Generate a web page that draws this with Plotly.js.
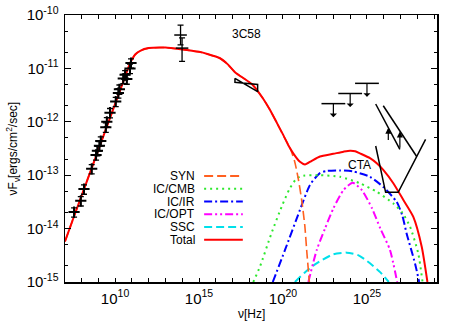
<!DOCTYPE html>
<html>
<head>
<meta charset="utf-8">
<script src="https://cdn.plot.ly/plotly-3.0.1.min.js"></script>
<style>
  html, body { margin: 0; padding: 0; background: #fff; }
  #sed { width: 458px; height: 321px; }
</style>
</head>
<body>
<div id="sed"></div>
<script>
// all values below are log10 readings (nu in Hz, nuFnu in erg/cm2/s)

// model curves
const totalNu = [7.02, 7.5, 8.0, 8.5, 9.0, 9.5, 10.0, 10.5, 10.9, 11.2, 11.5, 12.0, 13.0, 13.9, 15.0, 15.5, 16.25, 16.7, 17.14, 18.2, 18.8, 19.23, 19.6, 20.02, 20.3, 20.61, 21.01, 21.31, 21.71, 22.2, 22.99, 23.6, 23.99, 24.3, 24.58, 25.18, 25.6, 25.97, 26.57, 27.16, 27.76, 28.26, 28.6];
const totalF = [-14.24, -13.82, -13.39, -12.96, -12.53, -12.10, -11.67, -11.24, -10.9, -10.74, -10.67, -10.62, -10.61, -10.64, -10.69, -10.73, -10.81, -10.92, -11.07, -11.31, -11.56, -11.78, -12.0, -12.25, -12.43, -12.59, -12.75, -12.80, -12.73, -12.65, -12.60, -12.56, -12.54, -12.55, -12.59, -12.68, -12.78, -12.90, -13.15, -13.46, -13.78, -14.34, -15.0];

const synNu = [7.02, 8.0, 9.0, 10.0, 10.9, 11.2, 11.5, 12.0, 13.0, 13.9, 15.0, 15.5, 16.25, 16.7, 17.14, 18.2, 18.8, 19.23, 19.6, 20.02, 20.42, 20.7, 20.9, 21.11, 21.3, 21.41, 21.57];
const synF = [-14.24, -13.39, -12.53, -11.67, -10.9, -10.74, -10.67, -10.62, -10.61, -10.64, -10.69, -10.73, -10.81, -10.92, -11.07, -11.31, -11.56, -11.78, -12.0, -12.26, -12.49, -12.75, -13.05, -13.46, -13.95, -14.40, -15.0];

const cmbNu = [18.23, 18.63, 19.3, 19.92, 20.4, 20.82, 21.21, 22.2, 23.39, 24.58, 25.58, 26.57, 27.1, 27.56, 28.05, 28.31];
const cmbF = [-15.0, -14.71, -14.1, -13.59, -13.25, -13.06, -13.01, -13.0, -13.03, -13.15, -13.31, -13.53, -13.7, -13.96, -14.46, -15.0];

const irNu = [19.39, 20.12, 21.01, 21.61, 22.2, 22.6, 23.4, 24.18, 25.18, 25.97, 26.77, 27.1, 27.36, 27.86, 28.11];
const irF = [-15.0, -14.40, -13.65, -13.18, -12.96, -12.92, -12.91, -12.93, -13.03, -13.22, -13.50, -13.75, -14.09, -14.65, -15.0];

const optNu = [21.51, 22.01, 22.5, 23.0, 23.6, 24.15, 24.7, 25.3, 25.8, 26.37, 26.8];
const optF = [-15.0, -14.40, -14.0, -13.62, -13.28, -13.14, -13.28, -13.62, -14.0, -14.40, -15.0];

const sscNu = [20.71, 21.3, 22.0, 23.0, 23.79, 24.5, 25.18, 25.8, 26.3];
const sscF = [-15.0, -14.82, -14.65, -14.48, -14.45, -14.5, -14.65, -14.82, -15.0];

// radio points
const radioNu = [7.56, 7.96, 8.15, 8.61, 8.87, 8.95, 9.07, 9.15, 9.45, 9.51, 9.70, 10.04, 10.20, 10.26, 10.49, 10.60, 10.70, 10.89, 10.95];
const radioF = [-13.69, -13.48, -13.26, -12.88, -12.62, -12.54, -12.45, -12.36, -12.10, -12.0, -11.83, -11.62, -11.46, -11.39, -11.19, -11.12, -11.20, -11.0, -10.90];

// IR / optical points
const irPtNu = [13.9, 13.99];
const irPtF = [-10.375, -10.62];
const irPtHi = [-10.19, -10.43];
const irPtLo = [-10.56, -10.87];

// X-ray bowtie
const xrayNu = [17.14, 18.49, 18.49, 17.14, 17.14];
const xrayF = [-11.186, -11.436, -11.30, -11.26, -11.186];

// GeV upper limits
const ulNu = [23.0, 24.0, 25.0];
const ulF = [-11.66, -11.47, -11.28];

// TeV limits
const tev1Nu = [25.52, 26.96];
const tev1F = [-11.667, -12.515];
const tev2Nu = [25.97, 27.96];
const tev2F = [-11.70, -12.65];
const tevArrNu = [26.27, 26.96];
const tevArrFrom = [-12.37, -12.515];
const tevArrTo = [-12.11, -12.18];

// CTA sensitivity
const ctaNu = [25.52, 26.11, 26.86, 27.96, 28.49];
const ctaF = [-12.453, -13.32, -13.32, -12.65, -12.33];

const xTickExp = [7, 8, 9, 10, 11, 12, 13, 14, 15, 16, 17, 18, 19, 20, 21, 22, 23, 24, 25, 26, 27, 28, 29];
const xLabelExp = [10, 15, 20, 25];
const yTickExp = [-15, -14, -13, -12, -11, -10];

const lin = a => a.map(v => Math.pow(10, v));

const models = [
    { name: 'SSC', nu: sscNu, f: sscF, color: '#00e0ea', dash: '8px,4px' },
    { name: 'IC/OPT', nu: optNu, f: optF, color: '#ff00ff', dash: '8px,3px,2px,3px,2px,3px' },
    { name: 'IC/IR', nu: irNu, f: irF, color: '#0000ff', dash: '8px,3px,2px,3px' },
    { name: 'IC/CMB', nu: cmbNu, f: cmbF, color: '#2ee82e', dash: '2px,4px' },
    { name: 'SYN', nu: synNu, f: synF, color: '#ff6020', dash: '9px,4px' },
    { name: 'Total', nu: totalNu, f: totalF, color: '#ff0000', dash: 'solid' },
];
const legendOrder = ['SYN', 'IC/CMB', 'IC/IR', 'IC/OPT', 'SSC', 'Total'];

const traces = models.map(m => ({
    x: lin(m.nu), y: lin(m.f),
    mode: 'lines', type: 'scatter', hoverinfo: 'skip',
    line: { color: m.color, width: m.name === 'SYN' ? 1.6 : 2, dash: m.dash, shape: 'spline', smoothing: 0.6 },
}));

const black = { color: '#000', width: 1.5 };

traces.push({
    x: lin(radioNu), y: lin(radioF), mode: 'markers', type: 'scatter',
    marker: { symbol: 'cross-thin-open', size: 8, color: '#000', line: { color: '#000', width: 2 } },
    error_y: { type: 'percent', value: 20, color: '#000', thickness: 1.3, width: 3 },
});

const irY = lin(irPtF);
traces.push({
    x: lin(irPtNu), y: irY, mode: 'markers', type: 'scatter',
    marker: { symbol: 'line-ew-open', size: 9, color: '#000', line: { color: '#000', width: 1.5 } },
    error_y: {
        type: 'data', symmetric: false,
        array: lin(irPtHi).map((v, i) => v - irY[i]),
        arrayminus: irY.map((v, i) => v - lin(irPtLo)[i]),
        color: '#000', thickness: 1.3, width: 3,
    },
});

traces.push({ x: lin(xrayNu), y: lin(xrayF), mode: 'lines', type: 'scatter', line: black });
traces.push({
    x: lin(ulNu), y: lin(ulF), mode: 'markers', type: 'scatter',
    marker: { symbol: 'line-ew-open', size: 17, color: '#000', line: { color: '#000', width: 1.5 } },
});
traces.push({ x: lin(tev1Nu), y: lin(tev1F), mode: 'lines', type: 'scatter', line: black });
traces.push({ x: lin(tev2Nu), y: lin(tev2F), mode: 'lines', type: 'scatter', line: black });
traces.push({ x: lin(ctaNu), y: lin(ctaF), mode: 'lines', type: 'scatter', line: black });

const annotations = [];
ulNu.forEach((n, i) => annotations.push({
    x: n, y: ulF[i], xref: 'x', yref: 'y', ax: 0, ay: 15, text: '',
    showarrow: true, arrowside: 'start', arrowhead: 2, arrowsize: 1, arrowwidth: 1.2, arrowcolor: '#000',
}));
tevArrNu.forEach((n, i) => annotations.push({
    x: n, y: tevArrTo[i], xref: 'x', yref: 'y', axref: 'x', ayref: 'y', ax: n, ay: tevArrFrom[i], text: '',
    showarrow: true, arrowhead: 2, arrowsize: 1, arrowwidth: 1.2, arrowcolor: '#000',
}));

const txtFont = { family: 'Liberation Sans, Arial, sans-serif', size: 12, color: '#000' };
const tickFont = { family: 'Liberation Sans, Arial, sans-serif', size: 15, color: '#000' };
const paperText = (x, y, text, extra) => Object.assign({
    x: x, y: y, xref: 'paper', yref: 'paper', xanchor: 'center', yanchor: 'middle',
    text: text, showarrow: false, font: txtFont,
}, extra || {});
annotations.push(paperText(0.488, 0.929, '3C58'));
annotations.push(paperText(0.793, 0.438, 'CTA'));
// axis titles
annotations.push(paperText(-0.14, 0.5, 'νF<sub>ν</sub>[ergs/cm<sup>2</sup>/sec]', { textangle: -90 }));
annotations.push(paperText(0.5, -0.12, 'ν[Hz]'));

// hand-made legend: label right aligned, key to its right
const shapes = [];
legendOrder.forEach((name, i) => {
    const m = models.find(d => d.name === name);
    const yp = 0.397 - i * 0.0478;
    annotations.push(paperText(0.354, yp, name, { xanchor: 'right' }));
    shapes.push({
        type: 'line', xref: 'paper', yref: 'paper', x0: 0.374, x1: 0.478, y0: yp, y1: yp,
        line: { color: m.color, width: 2, dash: m.dash },
    });
});

const axisBase = {
    type: 'log', showgrid: false, zeroline: false,
    showline: true, linecolor: '#000', linewidth: 1.5, mirror: 'allticks',
    ticks: 'inside', ticklen: 6, tickwidth: 1, tickcolor: '#000',
    tickfont: tickFont, tickmode: 'array',
};

const layout = {
    width: 458, height: 321,
    margin: { l: 65, r: 21, t: 15, b: 39 },
    paper_bgcolor: '#fff', plot_bgcolor: '#fff',
    showlegend: false,
    font: txtFont,
    xaxis: Object.assign({}, axisBase, {
        range: [7.02, 29.17],
        tickvals: lin(xTickExp),
        ticktext: xTickExp.map(e => xLabelExp.includes(e) ? '10<sup>' + e + '</sup>' : ''),
        ticklen: 4,
        ticklabelstandoff: 2,
    }),
    yaxis: Object.assign({}, axisBase, {
        range: [-15, -10],
        tickvals: lin(yTickExp),
        ticktext: yTickExp.map(e => '10<sup>' + e + '</sup>'),
        ticklabelstandoff: 2,
        minor: {
            tickvals: lin(yTickExp.slice(0, -1).flatMap(e => [e + Math.log10(2), e + Math.log10(5)])),
            ticks: 'inside', ticklen: 3, tickcolor: '#000', tickwidth: 1,
        },
    }),
    annotations: annotations,
    shapes: shapes,
};

Plotly.newPlot('sed', traces, layout, { staticPlot: true, displayModeBar: false });
</script>
</body>
</html>
